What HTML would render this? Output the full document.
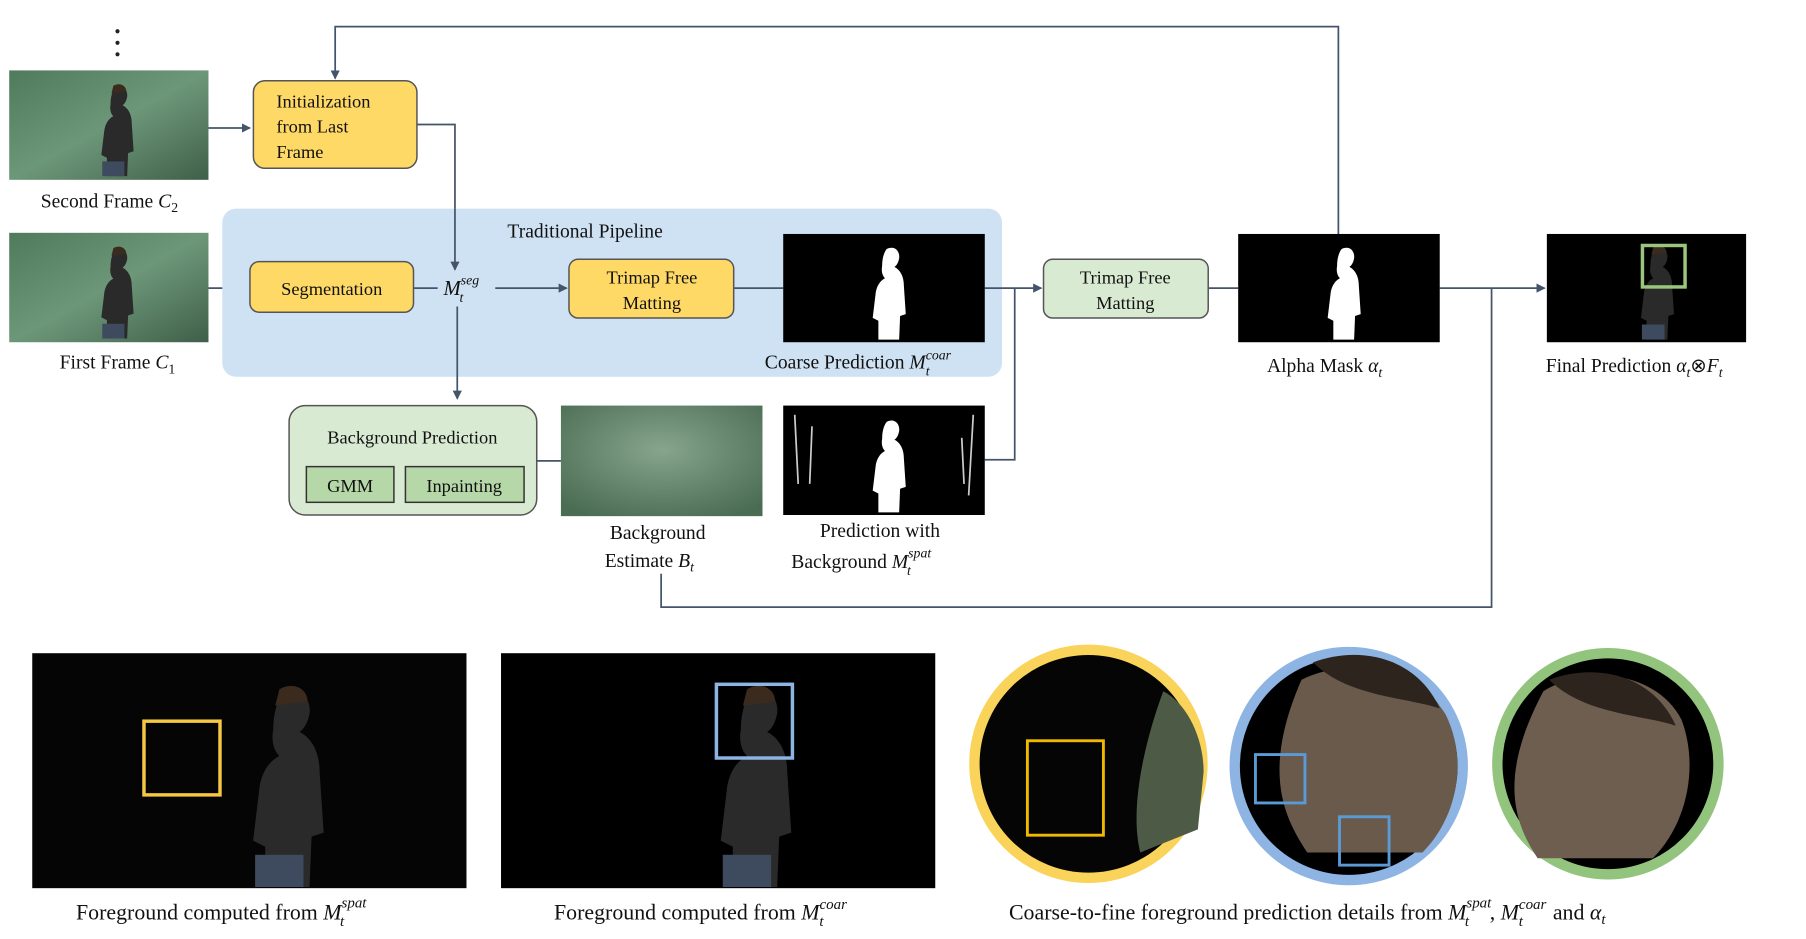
<!DOCTYPE html>
<html><head><meta charset="utf-8"><style>
html,body{margin:0;padding:0;background:#fff;}
svg{display:block;}
text{font-family:"Liberation Serif",serif;fill:#111;}
</style></head><body>
<svg width="1806" height="939" viewBox="0 0 1568 815" xmlns="http://www.w3.org/2000/svg">
<defs>
<marker id="a" markerWidth="8" markerHeight="8" refX="7" refY="4" orient="auto" markerUnits="userSpaceOnUse"><path d="M0,0 L8,4 L0,8 z" fill="#44546A"/></marker>
<linearGradient id="g" x1="0" y1="0" x2="1" y2="1"><stop offset="0" stop-color="#4f7a5c"/><stop offset="0.5" stop-color="#6d9779"/><stop offset="1" stop-color="#3f5f48"/></linearGradient>
<radialGradient id="bg2" cx="0.5" cy="0.4" r="0.7"><stop offset="0" stop-color="#86a58c"/><stop offset="1" stop-color="#4a6c52"/></radialGradient>
<g id="sil"><path d="M0,0 c8,-4 14,2 13,10 c-1,5 -3,8 -5,9 c6,3 10,10 10,20 l2,30 l-6,2 l-1,25 l-22,0 l0,-20 l-6,-3 l3,-25 c1,-10 6,-15 10,-17 c-3,-3 -4,-8 -3,-13 c0,-10 3,-16 5,-18 z" fill="#fff"/></g>
<g id="per"><path d="M0,0 c8,-4 14,2 13,10 c-1,5 -3,8 -5,9 c6,3 10,10 10,20 l2,30 l-6,2 l-1,25 l-22,0 l0,-20 l-6,-3 l3,-25 c1,-10 6,-15 10,-17 c-3,-3 -4,-8 -3,-13 c0,-10 3,-16 5,-18 z" fill="#2a2a2a"/><path d="M-2,-2 c6,-4 14,-1 14,6 l-16,2z" fill="#3b2a1e"/><rect x="-14" y="80" width="24" height="16" fill="#3e4a5e"/></g>
</defs>

<circle cx="102" cy="27" r="1.8" fill="#222"/><circle cx="102" cy="37" r="1.8" fill="#222"/><circle cx="102" cy="47" r="1.8" fill="#222"/>

<g stroke="#44546A" stroke-width="1.5" fill="none">
<path d="M1162,203 V23 H291 V68" marker-end="url(#a)"/>
<path d="M362,108 H395 V234" marker-end="url(#a)"/>
<path d="M181,111 H217" marker-end="url(#a)"/>
<path d="M181,250 H214" marker-end="url(#a)"/>
<path d="M855,250 H904" marker-end="url(#a)"/>
<path d="M855,399 H881 V250"/>
<path d="M466,400 H487"/>
<path d="M1049,250 H1075"/>
<path d="M1250,250 H1341" marker-end="url(#a)"/>
<path d="M574,498 V527 H1295 V250"/>
</g>

<rect x="193" y="181" width="677" height="146" rx="12" fill="#CFE2F3"/>
<text x="508" y="206" font-size="17" text-anchor="middle">Traditional Pipeline</text>
<g stroke="#44546A" stroke-width="1.5" fill="none">
<path d="M359,250 H380"/><path d="M430,250 H492" marker-end="url(#a)"/><path d="M637,250 H680"/><path d="M855,250 H870"/><path d="M395,181 V234" marker-end="url(#a)"/><path d="M397,266 V346" marker-end="url(#a)"/>
</g>

<rect x="8" y="61" width="173" height="95" fill="url(#g)"/>
<g transform="translate(100,76) scale(0.8)"><use href="#per"/></g>
<rect x="8" y="202" width="173" height="95" fill="url(#g)"/>
<g transform="translate(100,217) scale(0.8)"><use href="#per"/></g>
<text x="95" y="180" font-size="17" text-anchor="middle">Second Frame <tspan font-style="italic">C</tspan><tspan font-size="12" dy="4">2</tspan></text>
<text x="102" y="320" font-size="17" text-anchor="middle">First Frame  <tspan font-style="italic">C</tspan><tspan font-size="12" dy="4">1</tspan></text>

<rect x="220" y="70" width="142" height="76" rx="10" fill="#FFD966" stroke="#555" stroke-width="1.3"/>
<text x="240" y="93" font-size="16">Initialization</text>
<text x="240" y="115" font-size="16">from Last</text>
<text x="240" y="137" font-size="16">Frame</text>

<rect x="217" y="227" width="142" height="44" rx="8" fill="#FFD966" stroke="#555" stroke-width="1.3"/>
<text x="288" y="256" font-size="16" text-anchor="middle">Segmentation</text>
<text x="385" y="256" font-size="18" font-style="italic">M<tspan font-size="12" dy="-9">seg</tspan><tspan font-size="12" dx="-17" dy="15">t</tspan></text>

<rect x="494" y="225" width="143" height="51" rx="8" fill="#FFD966" stroke="#555" stroke-width="1.3"/>
<text x="566" y="246" font-size="16" text-anchor="middle">Trimap Free</text>
<text x="566" y="268" font-size="16" text-anchor="middle">Matting</text>

<rect x="680" y="203" width="175" height="94" fill="#000"/>
<g transform="translate(770,216) scale(0.82)"><use href="#sil"/></g>
<text x="664" y="320" font-size="17">Coarse Prediction <tspan font-style="italic">M</tspan><tspan font-size="12" font-style="italic" dy="-8">coar</tspan><tspan font-size="12" font-style="italic" dx="-22" dy="14">t</tspan></text>

<rect x="906" y="225" width="143" height="51" rx="8" fill="#D9EAD3" stroke="#555" stroke-width="1.3"/>
<text x="977" y="246" font-size="16" text-anchor="middle">Trimap Free</text>
<text x="977" y="268" font-size="16" text-anchor="middle">Matting</text>

<rect x="1075" y="203" width="175" height="94" fill="#000"/>
<g transform="translate(1165,216) scale(0.82)"><use href="#sil"/></g>
<text x="1100" y="323" font-size="17">Alpha Mask <tspan font-style="italic">α</tspan><tspan font-size="12" font-style="italic" dy="4">t</tspan></text>

<rect x="1343" y="203" width="173" height="94" fill="#000"/>
<g transform="translate(1437,216) scale(0.82)"><use href="#per"/></g>
<rect x="1426" y="213" width="37" height="36" fill="none" stroke="#9BC47E" stroke-width="3"/>
<text x="1342" y="323" font-size="17">Final Prediction <tspan font-style="italic">α</tspan><tspan font-size="12" font-style="italic" dy="4">t</tspan><tspan dy="-4">⊗</tspan><tspan font-style="italic">F</tspan><tspan font-size="12" font-style="italic" dy="4">t</tspan></text>

<rect x="251" y="352" width="215" height="95" rx="14" fill="#D9EAD3" stroke="#555" stroke-width="1.3"/>
<text x="358" y="385" font-size="16" text-anchor="middle">Background Prediction</text>
<rect x="266" y="405" width="76" height="31" fill="#B6D7A8" stroke="#333" stroke-width="1.3"/>
<text x="304" y="427" font-size="16" text-anchor="middle">GMM</text>
<rect x="352" y="405" width="103" height="31" fill="#B6D7A8" stroke="#333" stroke-width="1.3"/>
<text x="403" y="427" font-size="16" text-anchor="middle">Inpainting</text>

<rect x="487" y="352" width="175" height="96" fill="url(#bg2)"/>
<text x="571" y="468" font-size="17" text-anchor="middle">Background</text>
<text x="525" y="492" font-size="17">Estimate <tspan font-style="italic">B</tspan><tspan font-size="12" font-style="italic" dy="4">t</tspan></text>

<rect x="680" y="352" width="175" height="95" fill="#000"/>
<g transform="translate(770,366) scale(0.82)"><use href="#sil"/></g>
<path d="M690,360 l3,60 M705,370 l-2,50 M845,360 l-4,70 M835,380 l2,40" stroke="#ccc" stroke-width="1.5"/>
<text x="764" y="466" font-size="17" text-anchor="middle">Prediction with</text>
<text x="687" y="493" font-size="17">Background <tspan font-style="italic">M</tspan><tspan font-size="12" font-style="italic" dy="-9">spat</tspan><tspan font-size="12" font-style="italic" dx="-21" dy="15">t</tspan></text>

<rect x="28" y="567" width="377" height="204" fill="#050505"/>
<g transform="translate(246,602) scale(1.75)"><use href="#per"/></g>
<rect x="125" y="626" width="66" height="64" fill="none" stroke="#F5C842" stroke-width="3"/>
<text x="66" y="798" font-size="19">Foreground computed from <tspan font-style="italic">M</tspan><tspan font-size="13" font-style="italic" dy="-10">spat</tspan><tspan font-size="13" font-style="italic" dx="-23" dy="16">t</tspan></text>

<rect x="435" y="567" width="377" height="204" fill="#000"/>
<g transform="translate(652,602) scale(1.75)"><use href="#per"/></g>
<rect x="622" y="594" width="66" height="64" fill="none" stroke="#8DB4E2" stroke-width="3"/>
<text x="481" y="798" font-size="19">Foreground computed from <tspan font-style="italic">M</tspan><tspan font-size="13" font-style="italic" dy="-9">coar</tspan><tspan font-size="13" font-style="italic" dx="-24" dy="15">t</tspan></text>

<circle cx="945" cy="663" r="99" fill="#050505" stroke="#FAD35A" stroke-width="9"/>
<path d="M1010,600 c20,10 35,40 35,70 l-5,50 l-50,20 c-10,-40 5,-100 20,-140z" fill="#4d5a45"/>
<rect x="892" y="643" width="66" height="82" fill="none" stroke="#F0B800" stroke-width="2.5"/>
<circle cx="1171" cy="665" r="99" fill="#000" stroke="#8DB4E2" stroke-width="9"/>
<path d="M1130,590 c40,-20 100,-10 125,30 c20,40 10,90 -20,120 l-100,0 c-20,-30 -40,-70 -5,-150z" fill="#6a5a4c"/>
<path d="M1140,575 c40,-15 90,-5 110,40 c-30,-10 -80,-10 -110,-40z" fill="#2d241e"/>
<rect x="1090" y="655" width="43" height="42" fill="none" stroke="#5B9BD5" stroke-width="2.5"/>
<rect x="1163" y="709" width="43" height="42" fill="none" stroke="#5B9BD5" stroke-width="2.5"/>
<circle cx="1396" cy="663" r="96" fill="#000" stroke="#93C47D" stroke-width="9"/>
<path d="M1340,600 c40,-25 100,-15 120,25 c15,40 5,90 -25,120 l-100,0 c-20,-30 -35,-70 5,-145z" fill="#6e5e50"/>
<path d="M1345,590 c40,-15 90,-5 110,40 c-30,-10 -80,-10 -110,-40z" fill="#2d241e"/>
<text x="876" y="798" font-size="19">Coarse-to-fine foreground prediction details from <tspan font-style="italic">M</tspan><tspan font-size="13" font-style="italic" dy="-10">spat</tspan><tspan font-size="13" font-style="italic" dx="-23" dy="16">t</tspan><tspan dx="18" dy="-6">, </tspan><tspan font-style="italic">M</tspan><tspan font-size="13" font-style="italic" dy="-9">coar</tspan><tspan font-size="13" font-style="italic" dx="-24" dy="15">t</tspan><tspan dx="26" dy="-6">and </tspan><tspan font-style="italic">α</tspan><tspan font-size="13" font-style="italic" dy="4">t</tspan></text>
</svg>
</body></html>
